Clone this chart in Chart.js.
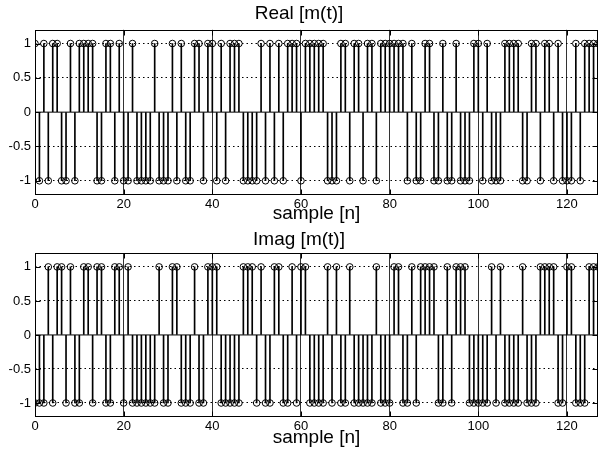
<!DOCTYPE html>
<html>
<head>
<meta charset="utf-8">
<script src="https://cdn.jsdelivr.net/npm/chart.js@4.4.1/dist/chart.umd.min.js"></script>
<style>
  html, body { margin: 0; padding: 0; background: #fff; }
  #wrap { position: relative; width: 605px; height: 455px; }
  .box { position: absolute; left: 0; width: 605px; }
</style>
</head>
<body>
<div id="wrap">
  <div class="box" style="top:0;height:227px"><canvas id="chartReal"></canvas></div>
  <div class="box" style="top:227px;height:228px"><canvas id="chartImag"></canvas></div>
</div>
<script>
// sample values of m(t) (+1 / -1)
var realVals = [
   1,-1, 1,-1, 1, 1,-1,-1, 1,-1, 1, 1, 1, 1,-1,-1, 1, 1,-1, 1,-1,-1, 1,-1,-1,-1,-1, 1,-1,-1,-1, 1,
  -1, 1,-1,-1, 1, 1,-1, 1, 1,-1, 1,-1, 1, 1, 1,-1,-1,-1,-1, 1,-1, 1,-1, 1,-1, 1, 1, 1,-1, 1, 1, 1,
   1, 1,-1,-1,-1, 1, 1,-1, 1, 1,-1, 1, 1,-1, 1, 1, 1, 1, 1, 1,-1, 1,-1,-1, 1, 1,-1,-1, 1,-1,-1, 1,
  -1,-1,-1, 1, 1,-1, 1,-1,-1,-1, 1, 1, 1, 1,-1,-1, 1, 1,-1, 1, 1,-1, 1,-1,-1,-1, 1,-1, 1, 1, 1, 1
];
var imagVals = [
  -1,-1,-1, 1,-1, 1, 1,-1, 1,-1,-1, 1, 1,-1, 1, 1,-1,-1, 1, 1,-1, 1,-1,-1,-1,-1,-1,-1, 1,-1,-1, 1,
   1,-1,-1,-1, 1,-1,-1, 1, 1, 1,-1,-1,-1,-1,-1, 1, 1, 1,-1, 1,-1,-1, 1, 1,-1,-1, 1,-1, 1, 1,
  -1,-1,-1,-1, 1,-1, 1,-1,-1, 1,-1,-1,-1,-1,-1, 1,-1,-1,-1, 1, 1,-1,-1, 1,-1, 1, 1, 1, 1,-1,-1, 1,-1, 1, 1, 1,
  -1,-1,-1,-1,-1, 1,-1, 1,-1,-1,-1,-1, 1,-1,-1,-1, 1, 1, 1, 1,-1,-1, 1, 1,-1,-1,-1, 1, 1, 1
];
var xTicks = [0, 20, 40, 60, 80, 100, 120];
var yTicks = [-1, -0.5, 0, 0.5, 1];
var xMax = 127;
var font = "'Liberation Sans', Arial, sans-serif";

// matlab style frame with inward ticks
var boxPlugin = {
  id: 'box',
  afterDraw: function (chart) {
    var ctx = chart.ctx, a = chart.chartArea, sx = chart.scales.x, sy = chart.scales.y;
    var L = Math.round(a.left) + 0.5, R = Math.round(a.right) - 0.5;
    var T = Math.round(a.top) + 0.5, B = Math.round(a.bottom) - 0.5;
    ctx.save();
    ctx.strokeStyle = '#000';
    ctx.lineWidth = 1;
    ctx.strokeRect(L, T, R - L, B - T);
    ctx.beginPath();
    sx.ticks.forEach(function (t) {
      var p = Math.round(sx.getPixelForValue(t.value)) + 0.5;
      ctx.moveTo(p, B); ctx.lineTo(p, B - 5);
      ctx.moveTo(p, T); ctx.lineTo(p, T + 5);
    });
    sy.ticks.forEach(function (t) {
      var p = Math.round(sy.getPixelForValue(t.value)) + 0.5;
      ctx.moveTo(L, p); ctx.lineTo(L + 5, p);
      ctx.moveTo(R, p); ctx.lineTo(R - 5, p);
    });
    ctx.stroke();
    ctx.restore();
  }
};

function stemChart(canvasName, titleText, vals, lay) {
    var pts = vals.map(function (v, i) { return { x: i, y: v }; });
    var ctx = document.getElementById(canvasName).getContext('2d');
    return new Chart(ctx, {
        type: 'bar',
        data: {
            datasets: [{
                type: 'line',
                data: [{ x: 0, y: 0 }, { x: xMax, y: 0 }],
                borderColor: '#000',
                borderWidth: 1,
                pointRadius: 0,
                order: 3
            }, {
                type: 'bar',
                data: pts,
                backgroundColor: '#000',
                borderWidth: 0,
                barThickness: 1,
                order: 2
            }, {
                type: 'line',
                data: pts,
                showLine: false,
                pointStyle: 'circle',
                pointRadius: 3.3,
                pointBorderWidth: 1,
                pointBorderColor: '#000',
                pointBackgroundColor: 'rgba(0,0,0,0)',
                order: 1
            }]
        },
        options: {
            responsive: true,
            maintainAspectRatio: false,
            animation: false,
            events: [],
            layout: { padding: { left: 0, right: 7, top: lay.padTop, bottom: 0 } },
            plugins: {
                legend: { display: false },
                tooltip: { enabled: false },
                title: {
                    display: true,
                    text: titleText,
                    color: '#000',
                    font: { family: font, size: 19, weight: 'normal' },
                    padding: { top: lay.titleTop, bottom: lay.titleBottom }
                }
            },
            scales: {
                x: {
                    type: 'linear',
                    min: 0,
                    max: xMax,
                    offset: false,
                    afterBuildTicks: function (s) { s.ticks = xTicks.map(function (v) { return { value: v }; }); },
                    afterFit: function (s) { s.height = lay.xHeight; },
                    ticks: { color: '#000', font: { family: font, size: 13 }, padding: 2, maxRotation: 0, autoSkip: false },
                    grid: {
                        offset: false,
                        drawTicks: false,
                        color: function (c) { return c.tick && c.tick.value > 0 ? '#333' : 'rgba(0,0,0,0)'; }
                    },
                    border: { display: false },
                    title: {
                        display: true,
                        text: 'sample [n]',
                        color: '#000',
                        font: { family: font, size: 19 },
                        padding: { top: 0, bottom: lay.labelBottom }
                    }
                },
                y: {
                    min: -1.2,
                    max: 1.2,
                    afterBuildTicks: function (s) { s.ticks = yTicks.map(function (v) { return { value: v }; }); },
                    afterFit: function (s) { s.width = 35; },
                    ticks: {
                        color: '#000',
                        font: { family: font, size: 13 },
                        padding: 4,
                        callback: function (v) { return String(v); }
                    },
                    grid: {
                        drawTicks: false,
                        color: function (c) { return c.tick && c.tick.value !== 0 ? '#000' : 'rgba(0,0,0,0)'; }
                    },
                    border: { display: false, dash: [1.5, 3] }
                }
            }
        },
        plugins: [boxPlugin]
    });
}

stemChart('chartReal', 'Real [m(t)]', realVals, { padTop: 0, titleTop: 2, titleBottom: 5, xHeight: 32.5, labelBottom: 2 });
stemChart('chartImag', 'Imag [m(t)]', imagVals, { padTop: 0, titleTop: 1.5, titleBottom: 2, xHeight: 38.4, labelBottom: 6 });
</script>
</body>
</html>
